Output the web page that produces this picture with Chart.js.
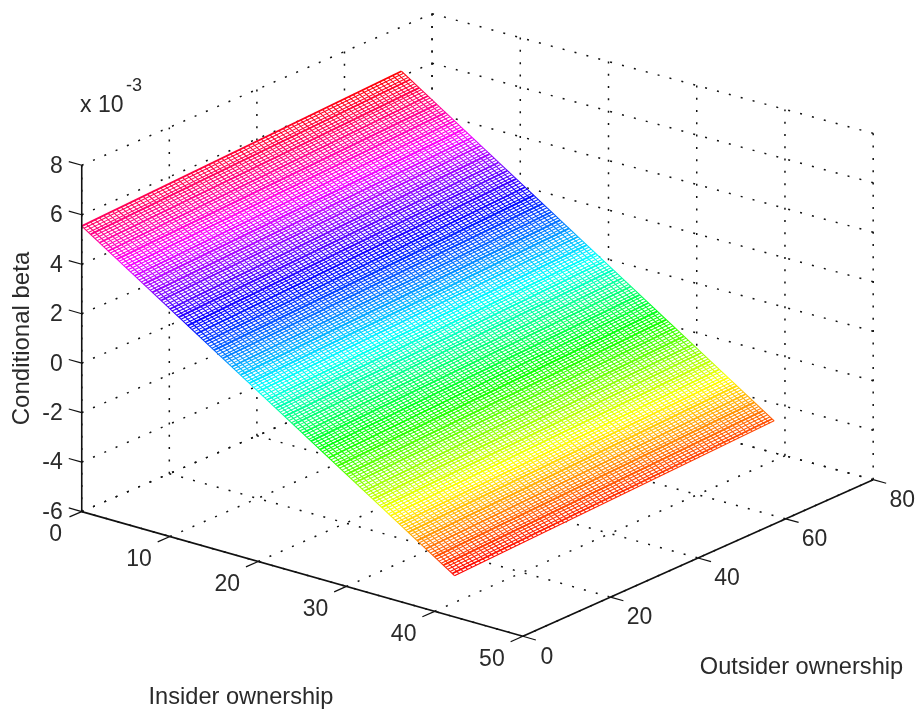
<!DOCTYPE html>
<html>
<head>
<meta charset="utf-8">
<style>html,body{margin:0;padding:0;background:#fff}canvas{display:block}</style>
<script src="https://cdn.jsdelivr.net/npm/chart.js@4"></script>
</head>
<body>
<canvas id="c" width="920" height="713"></canvas>
<script>
// ---- values (beta in units of 10^-3) ----
const insiderTicks = [0, 10, 20, 30, 40, 50];
const outsiderTicks = [0, 20, 40, 60, 80];
const betaTicks = [-6, -4, -2, 0, 2, 4, 6, 8];

// surface rows: one mesh line per insider value, from the outsider=0 edge to the far edge
const insiderGrid = [
0,0.25,0.5,0.75,1,1.25,1.5,1.75,2,2.25,2.5,2.75,3,3.25,3.5,3.75,4,4.25,4.5,4.75,
5,5.25,5.5,5.75,6,6.25,6.5,6.75,7,7.25,7.5,7.75,8,8.25,8.5,8.75,9,9.25,9.5,9.75,
10,10.25,10.5,10.75,11,11.25,11.5,11.75,12,12.25,12.5,12.75,13,13.25,13.5,13.75,14,14.25,14.5,14.75,
15,15.25,15.5,15.75,16,16.25,16.5,16.75,17,17.25,17.5,17.75,18,18.25,18.5,18.75,19,19.25,19.5,19.75,
20,20.25,20.5,20.75,21,21.25,21.5,21.75,22,22.25,22.5,22.75,23,23.25,23.5,23.75,24,24.25,24.5,24.75,
25,25.25,25.5,25.75,26,26.25,26.5,26.75,27,27.25,27.5,27.75,28,28.25,28.5,28.75,29,29.25,29.5,29.75,
30,30.25,30.5,30.75,31,31.25,31.5,31.75,32,32.25,32.5,32.75,33,33.25,33.5,33.75,34,34.25,34.5,34.75,
35,35.25,35.5,35.75,36,36.25,36.5,36.75,37,37.25,37.5,37.75,38,38.25,38.5,38.75,39,39.25,39.5,39.75,
40,40.25,40.5,40.75,41,41.25,41.5,41.75,42,42.25];
const betaNearEdge = [
5.54,5.48,5.42,5.36,5.31,5.25,5.19,5.13,5.07,5.01,4.96,4.90,4.84,4.78,4.72,4.66,4.61,4.55,4.49,4.43,
4.37,4.31,4.25,4.19,4.14,4.08,4.02,3.96,3.90,3.84,3.79,3.73,3.67,3.61,3.55,3.49,3.44,3.38,3.32,3.26,
3.20,3.14,3.08,3.02,2.97,2.91,2.85,2.79,2.73,2.67,2.62,2.56,2.50,2.44,2.38,2.32,2.27,2.21,2.15,2.09,
2.04,1.98,1.92,1.86,1.81,1.75,1.69,1.63,1.57,1.51,1.46,1.40,1.34,1.28,1.22,1.16,1.11,1.05,0.99,0.93,
0.87,0.81,0.75,0.69,0.64,0.58,0.52,0.46,0.40,0.34,0.29,0.23,0.17,0.11,0.05,-0.01,-0.06,-0.12,-0.18,-0.24,
-0.30,-0.36,-0.42,-0.48,-0.53,-0.59,-0.65,-0.71,-0.77,-0.83,-0.88,-0.94,-1.00,-1.06,-1.12,-1.18,-1.23,-1.29,-1.35,-1.41,
-1.47,-1.53,-1.59,-1.65,-1.70,-1.76,-1.82,-1.88,-1.94,-2.00,-2.05,-2.11,-2.17,-2.23,-2.29,-2.35,-2.40,-2.46,-2.52,-2.58,
-2.64,-2.70,-2.76,-2.82,-2.87,-2.93,-2.99,-3.05,-3.11,-3.17,-3.22,-3.28,-3.34,-3.40,-3.46,-3.52,-3.57,-3.63,-3.69,-3.75,
-3.80,-3.86,-3.92,-3.98,-4.03,-4.09,-4.15,-4.21,-4.27,-4.33];
const betaFarEdge = [
6.21,6.15,6.09,6.03,5.97,5.91,5.85,5.79,5.73,5.68,5.62,5.56,5.50,5.44,5.38,5.32,5.26,5.20,5.14,5.08,
5.02,4.96,4.90,4.84,4.78,4.72,4.66,4.60,4.54,4.49,4.43,4.37,4.31,4.25,4.19,4.13,4.07,4.01,3.95,3.89,
3.83,3.77,3.71,3.65,3.59,3.53,3.47,3.41,3.35,3.30,3.24,3.18,3.12,3.06,3.00,2.94,2.88,2.82,2.76,2.70,
2.65,2.59,2.53,2.47,2.41,2.35,2.29,2.23,2.17,2.12,2.06,2.00,1.94,1.88,1.82,1.76,1.70,1.64,1.58,1.52,
1.46,1.40,1.34,1.28,1.22,1.16,1.10,1.04,0.98,0.93,0.87,0.81,0.75,0.69,0.63,0.57,0.51,0.45,0.39,0.33,
0.27,0.21,0.15,0.09,0.03,-0.03,-0.09,-0.15,-0.21,-0.26,-0.32,-0.38,-0.44,-0.50,-0.56,-0.62,-0.68,-0.74,-0.80,-0.86,
-0.92,-0.98,-1.04,-1.10,-1.16,-1.22,-1.28,-1.34,-1.40,-1.45,-1.51,-1.57,-1.63,-1.69,-1.75,-1.81,-1.87,-1.93,-1.99,-2.05,
-2.11,-2.17,-2.23,-2.29,-2.35,-2.41,-2.47,-2.53,-2.59,-2.64,-2.70,-2.76,-2.82,-2.88,-2.94,-3.00,-3.06,-3.12,-3.18,-3.24,
-3.29,-3.35,-3.41,-3.47,-3.53,-3.59,-3.65,-3.71,-3.77,-3.82];

// surface columns: one mesh line per outsider value, from insider=0 to the last insider row
const outsiderGrid = [
0,1,2,3,4,5,6,7,8,9,10,11,12,13,14,15,16,17,18,19,20,21,22,23,24,25,26,27,28,29,30,31,32,33,34,35,36,
37,38,39,40,41,42,43,44,45,46,47,48,49,50,51,52,53,54,55,56,57,58,59,60,61,62,63,64,65,66,67,68,69,70,71,72,73];
const betaAtInsiderZero = [
5.54,5.55,5.56,5.57,5.58,5.59,5.60,5.60,5.61,5.62,5.63,5.64,5.65,5.66,5.67,5.68,5.69,5.70,5.71,5.71,
5.72,5.73,5.74,5.75,5.76,5.77,5.78,5.79,5.80,5.81,5.82,5.82,5.83,5.84,5.85,5.86,5.87,5.88,5.89,5.90,
5.91,5.92,5.93,5.93,5.94,5.95,5.96,5.97,5.98,5.99,6.00,6.01,6.02,6.03,6.04,6.04,6.05,6.06,6.07,6.08,
6.09,6.10,6.11,6.12,6.13,6.14,6.15,6.15,6.16,6.17,6.18,6.19,6.20,6.21];
const betaAtInsiderLast = [
-4.33,-4.32,-4.32,-4.31,-4.30,-4.30,-4.29,-4.28,-4.27,-4.27,-4.26,-4.25,-4.25,-4.24,-4.23,-4.23,-4.22,-4.21,-4.20,-4.20,
-4.19,-4.18,-4.18,-4.17,-4.16,-4.16,-4.15,-4.14,-4.13,-4.13,-4.12,-4.11,-4.11,-4.10,-4.09,-4.09,-4.08,-4.07,-4.06,-4.06,
-4.05,-4.04,-4.04,-4.03,-4.02,-4.02,-4.01,-4.00,-3.99,-3.99,-3.98,-3.97,-3.97,-3.96,-3.95,-3.95,-3.94,-3.93,-3.92,-3.92,
-3.91,-3.90,-3.90,-3.89,-3.88,-3.88,-3.87,-3.86,-3.85,-3.85,-3.84,-3.83,-3.83,-3.82];

// ---- view: where the floor corners of the 3-D box land, and the height of one beta unit ----
const floorOrigin = [81, 512], floorFront = [523, 637], floorRight = [874, 480], floorBack = [432, 360];
const betaUnit = 24.8;
const iMax = insiderTicks[insiderTicks.length - 1];
const oMax = outsiderTicks[outsiderTicks.length - 1];
const zMin = betaTicks[0], zMax = betaTicks[betaTicks.length - 1];

function project(ins, out, z) {
  const u = ins / iMax, v = out / oMax;
  const mix = k => (1 - u) * (1 - v) * floorOrigin[k] + u * (1 - v) * floorFront[k] + u * v * floorRight[k] + (1 - u) * v * floorBack[k];
  return { x: mix(0), y: mix(1) - (z - zMin) * betaUnit };
}

// hsv colormap spanning the surface's beta range
const lastRow = insiderGrid.length - 1, lastCol = outsiderGrid.length - 1;
const cMin = betaNearEdge[lastRow], cMax = betaFarEdge[0];
const colorOf = z => 'hsl(' + (360 * (z - cMin) / (cMax - cMin)) + ',100%,50%)';

function meshColor(chart, a, b, za, zb) {
  const sx = chart.scales.x, sy = chart.scales.y;
  const g = chart.ctx.createLinearGradient(sx.getPixelForValue(a.x), sy.getPixelForValue(a.y), sx.getPixelForValue(b.x), sy.getPixelForValue(b.y));
  const n = Math.ceil(Math.abs(zb - za) * 3) + 1;
  for (let i = 0; i <= n; i++) g.addColorStop(i / n, colorOf(za + (zb - za) * i / n));
  return g;
}

const datasets = [];
const meshSpecs = [];
function meshLine(a, b, za, zb, width) {
  const ds = { data: [a, b], showLine: true, pointRadius: 0, borderWidth: width, borderCapStyle: 'butt', borderColor: colorOf(za) };
  datasets.push(ds);
  meshSpecs.push({ ds, a, b, za, zb });
}
function inkLine(points, width, dash) {
  datasets.push({ data: points, showLine: true, pointRadius: 0, borderWidth: width, borderColor: '#111', borderDash: dash || [] });
}
const grid = [2, 10.3];

// top layer: axes and ticks
inkLine([project(0, 0, zMin), project(0, 0, zMax)], 1.6);
inkLine([project(0, 0, zMin), project(iMax, 0, zMin)], 1.6);
inkLine([project(iMax, 0, zMin), project(iMax, oMax, zMin)], 1.6);
betaTicks.forEach(z => inkLine([project(0, 0, z), project(-1.47, 0, z)], 1.2));
insiderTicks.forEach(i => inkLine([project(i, 0, zMin), project(i, -2.8, zMin)], 1.2));
outsiderTicks.forEach(o => inkLine([project(iMax, o, zMin), project(iMax + 1.47, o, zMin)], 1.2));

// surface mesh
insiderGrid.forEach((ins, k) => meshLine(project(ins, 0, betaNearEdge[k]), project(ins, outsiderGrid[lastCol], betaFarEdge[k]),
  betaNearEdge[k], betaFarEdge[k], k % 4 === 0 ? 1.8 : 1.05));
outsiderGrid.forEach((out, k) => meshLine(project(0, out, betaAtInsiderZero[k]), project(insiderGrid[lastRow], out, betaAtInsiderLast[k]),
  betaAtInsiderZero[k], betaAtInsiderLast[k], 1.05));

// opaque sheet under the mesh: it hides the grid, as the mesh's hidden-line fill does
const sheet = [project(0, 0, betaAtInsiderZero[0]), project(0, outsiderGrid[lastCol], betaAtInsiderZero[lastCol]),
  project(insiderGrid[lastRow], outsiderGrid[lastCol], betaAtInsiderLast[lastCol]), project(insiderGrid[lastRow], 0, betaAtInsiderLast[0]),
  project(0, 0, betaAtInsiderZero[0])];
datasets.push({ data: sheet, showLine: true, pointRadius: 0, borderWidth: 0, borderColor: '#fff', backgroundColor: '#fff', fill: 'shape' });

// bottom layer: dotted grid on the floor and on the two back walls
insiderTicks.forEach(i => { inkLine([project(i, 0, zMin), project(i, oMax, zMin)], 1.5, grid);
  inkLine([project(i, oMax, zMin), project(i, oMax, zMax)], 1.5, grid); });
outsiderTicks.forEach(o => { inkLine([project(0, o, zMin), project(iMax, o, zMin)], 1.5, grid);
  inkLine([project(0, o, zMin), project(0, o, zMax)], 1.5, grid); });
betaTicks.forEach(z => { inkLine([project(0, 0, z), project(0, oMax, z)], 1.5, grid);
  inkLine([project(0, oMax, z), project(iMax, oMax, z)], 1.5, grid); });

const FONT = '"Liberation Sans", Arial, sans-serif';
const labelsPlugin = {
  id: 'labels3d',
  afterDraw(chart) {
    const c = chart.ctx, sx = chart.scales.x, sy = chart.scales.y;
    const px = p => [sx.getPixelForValue(p.x), sy.getPixelForValue(p.y)];
    const text = (s, x, y, size, align, rot) => {
      c.save(); c.translate(x, y); if (rot) c.rotate(rot);
      c.font = size + 'px ' + FONT; c.fillStyle = '#2a2a2a'; c.textAlign = align; c.textBaseline = 'middle';
      c.fillText(s, 0, 0); c.restore();
    };
    betaTicks.forEach(z => { const [x, y] = px(project(0, 0, z)); text(String(z), x - 19, y + 1, 23, 'right'); });
    insiderTicks.forEach(i => { const [x, y] = px(project(i, 0, zMin)); text(String(i), x - (i === 0 ? 26 : 31), y + 23, 23, 'center'); });
    outsiderTicks.forEach(o => { const [x, y] = px(project(iMax, o, zMin)); text(String(o), x + (o === 0 ? 24 : 29), y + 21, 23, 'center'); });
    text('x 10', 80, 106, 23, 'left');
    text('-3', 126, 86, 18, 'left');
    text('Conditional beta', 22, 338.5, 24, 'center', -Math.PI / 2);
    text('Insider ownership', 241, 697, 23.6, 'center');
    text('Outsider ownership', 801.5, 667, 23.6, 'center');
  }
};

const chart = new Chart(document.getElementById('c'), {
  type: 'scatter',
  data: { datasets },
  plugins: [labelsPlugin],
  options: {
    responsive: false, animation: false, events: [],
    layout: { padding: 0 },
    plugins: { legend: { display: false }, tooltip: { enabled: false }, title: { display: false } },
    scales: {
      x: { type: 'linear', min: 0, max: 920, display: false },
      y: { type: 'linear', min: 0, max: 713, reverse: true, display: false }
    }
  }
});
// scales exist now: give every mesh line its colour ramp
meshSpecs.forEach(m => { m.ds.borderColor = meshColor(chart, m.a, m.b, m.za, m.zb); });
chart.update('none');
</script>
</body>
</html>
